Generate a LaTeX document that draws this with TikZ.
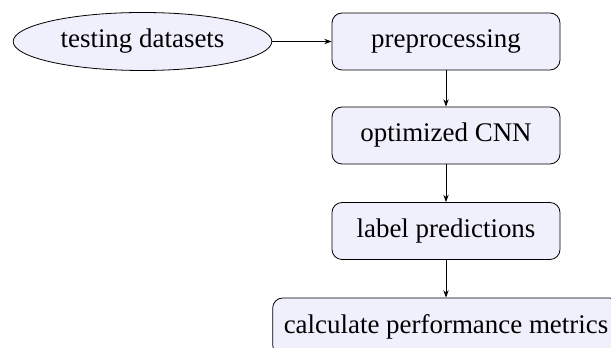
\documentclass[tikz,border=0pt]{standalone}
\usepackage{fontspec}
\setmainfont{Liberation Serif}
\usetikzlibrary{shapes.geometric,arrows.meta}
\definecolor{boxfill}{RGB}{240,240,253}
\tikzset{
	stepbox/.style={draw,rounded corners=7.5pt,fill=boxfill,line width=0.6pt,minimum width=171pt,minimum height=42.75pt,font=\fontsize{20.2}{24}\selectfont},
	databox/.style={draw,ellipse,fill=boxfill,line width=0.6pt,minimum width=194pt,minimum height=43.5pt,inner sep=0pt,font=\fontsize{20.2}{24}\selectfont},
	flow/.style={-{Stealth[length=5.5pt,width=4pt]},line width=0.6pt}
}
\begin{document}
\begin{tikzpicture}[x=0.75pt,y=0.75pt,yscale=-1,xscale=1]
		\useasboundingbox (0,0) rectangle (611,348);
		\node [databox] (data) at (142.5,41.5) {testing datasets};
		\node [stepbox] (prep) at (446,41.5) {preprocessing};
		\node [stepbox] (cnn) at (446,135.5) {optimized CNN};
		\node [stepbox] (pred) at (446,231) {label predictions};
		\node [stepbox,minimum width=260pt] (metr) at (446,326.5) {calculate performance metrics};
		\draw [flow] (data) -- (prep);
		\draw [flow] (prep) -- (cnn);
		\draw [flow] (cnn) -- (pred);
		\draw [flow] (pred) -- (metr);
	\end{tikzpicture}
\end{document}
